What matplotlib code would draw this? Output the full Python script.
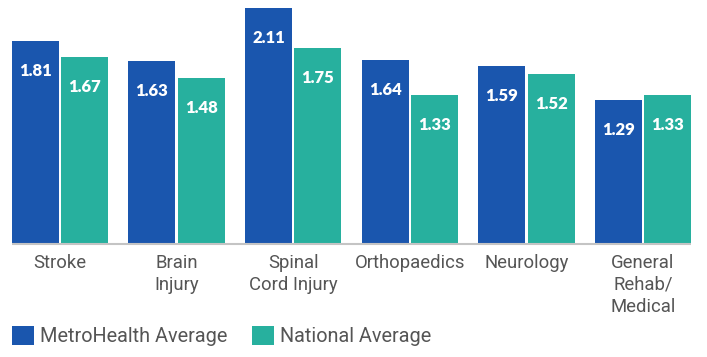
import matplotlib
matplotlib.use("Agg")
import matplotlib.pyplot as plt
import numpy as np
from matplotlib.patches import Patch

categories = ["Stroke", "Brain\nInjury", "Spinal\nCord Injury", "Orthopaedics", "Neurology", "General\nRehab/\nMedical"]
metro = [1.81, 1.63, 2.11, 1.64, 1.59, 1.29]
national = [1.67, 1.48, 1.75, 1.33, 1.52, 1.33]
series_names = ["MetroHealth Average", "National Average"]

BLUE = "#1a56ae"
TEAL = "#27b09e"
TEXT = "#555555"

plt.rcParams['font.family'] = ['Roboto', 'DejaVu Sans']

fig = plt.figure(figsize=(7.07, 3.57), dpi=100)
base = 1 - 244 / 357
ax = fig.add_axes([0, base, 1, 1 - base])

x = np.arange(len(categories))
w = 0.403
off = 0.212
b1 = ax.bar(x - off, metro, width=w, color=BLUE, zorder=2)
b2 = ax.bar(x + off, national, width=w, color=TEAL, zorder=2)

for bars, vals in ((b1, metro), (b2, national)):
    for r, v in zip(bars, vals):
        ax.annotate(f"{v:.2f}", (r.get_x() + r.get_width() / 2, v),
                    xytext=(0, -21.6), textcoords="offset points",
                    ha="center", va="center", color="white",
                    fontsize=12, fontweight="heavy", family=["Lato", "DejaVu Sans"], zorder=3)

ax.plot([x[0] - off - w / 2, x[-1] + off + w / 2], [0, 0], color="#c4c4c4", lw=1.5, zorder=3,
        solid_capstyle="butt", clip_on=False)

ax.set_xlim(-60 / 116.6, (707 - 60) / 116.6)
ax.set_ylim(0, 244 / 112.0)
ax.set_yticks([])
ax.set_xticks(x)
ax.set_xticklabels(categories, fontsize=13.3, color=TEXT, linespacing=1.28)
ax.tick_params(axis="x", length=0, pad=7)
for s in ax.spines.values():
    s.set_visible(False)
ax.patch.set_alpha(0)

handles = [Patch(facecolor=BLUE, edgecolor="none"), Patch(facecolor=TEAL, edgecolor="none")]
leg = fig.legend(handles, series_names, loc="lower left", bbox_to_anchor=(12 / 707, 11 / 357),
           ncol=2, frameon=False, borderaxespad=0, borderpad=0,
           prop={"size": 14.3},
           handlelength=1.1, handleheight=1.1, handletextpad=0.3, columnspacing=1.25,
           labelcolor=TEXT)

fig.savefig("out.png", dpi=100)
